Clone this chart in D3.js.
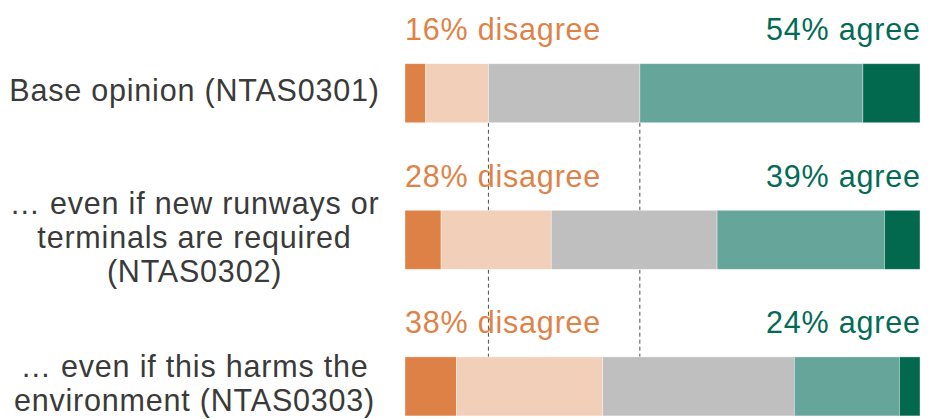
<!DOCTYPE html>
<html>
<head>
<meta charset="utf-8">
<script src="https://cdn.jsdelivr.net/npm/d3@7"></script>
<style>
  html, body { margin: 0; padding: 0; background: #fff; }
  svg { display: block; font-family: "Liberation Sans", Arial, Helvetica, sans-serif; }
</style>
</head>
<body>
<svg id="chart" width="931" height="419"></svg>
<script>
// Survey statements (one row each); label lines are split for wrapping
const questions = [
  ["Base opinion (NTAS0301)"],
  ["\u2026 even if new runways or", "terminals are required", "(NTAS0302)"],
  ["\u2026 even if this harms the", "environment (NTAS0303)"]
];

// Response shares (%) per statement
const stronglyDisagree = [4.0, 7.0, 10.0];
const disagree         = [12.2, 21.4, 28.4];
const neutral          = [29.4, 32.2, 37.2];
const agree            = [43.3, 32.5, 20.4];
const stronglyAgree    = [11.1, 6.9, 4.0];

const responseKeys = ["Strongly disagree", "Disagree", "Neutral", "Agree", "Strongly agree"];
const responseColors = ["#de8146", "#f2cfb9", "#bfbfbf", "#66a59a", "#02694f"];

const svg = d3.select("#chart");
const fontSize = 30.5;
const tracking = 0.8;

const rows = questions.map((q, i) => ({
  id: "q" + i,
  lines: q,
  "Strongly disagree": stronglyDisagree[i],
  "Disagree": disagree[i],
  "Neutral": neutral[i],
  "Agree": agree[i],
  "Strongly agree": stronglyAgree[i]
}));

const x = d3.scaleLinear().domain([0, 100]).range([405, 920]);
const y = d3.scaleBand()
  .domain(rows.map(d => d.id))
  .range([63.7, 415.9])
  .paddingInner(0.5975)
  .paddingOuter(0);

const color = d3.scaleOrdinal().domain(responseKeys).range(responseColors);
const stacked = d3.stack().keys(responseKeys)(rows);

// Reference guides at the first statement's disagree / neutral boundaries
const first = rows[0];
const guideValues = [
  first["Strongly disagree"] + first["Disagree"],
  first["Strongly disagree"] + first["Disagree"] + first["Neutral"]
];
svg.append("g")
  .selectAll("line")
  .data(guideValues)
  .join("line")
  .attr("x1", d => x(d)).attr("x2", d => x(d))
  .attr("y1", y(rows[0].id) + y.bandwidth())
  .attr("y2", y(rows[rows.length - 1].id))
  .attr("stroke", "#505050")
  .attr("stroke-width", 1)
  .attr("stroke-dasharray", "4,3");

// Stacked bars
svg.append("g")
  .selectAll("g")
  .data(stacked)
  .join("g")
  .attr("fill", s => color(s.key))
  .selectAll("rect")
  .data(s => s)
  .join("rect")
  .attr("x", d => x(d[0]))
  .attr("width", d => x(d[1]) - x(d[0]))
  .attr("y", d => y(d.data.id))
  .attr("height", y.bandwidth())
  .attr("stroke", "#ffffff")
  .attr("stroke-opacity", 0.45)
  .attr("stroke-width", 0.8);

// Totals above each bar
const summary = svg.append("g")
  .attr("font-size", fontSize)
  .attr("letter-spacing", tracking);
rows.forEach(r => {
  const dis = Math.round(r["Strongly disagree"] + r["Disagree"]);
  const agr = Math.round(r["Agree"] + r["Strongly agree"]);
  const base = y(r.id) - 23.5;
  summary.append("text")
    .attr("x", x(0)).attr("y", base)
    .attr("fill", "#df8247")
    .text(dis + "% disagree");
  summary.append("text")
    .attr("x", x(100) + tracking).attr("y", base)
    .attr("text-anchor", "end")
    .attr("fill", "#036b55")
    .text(agr + "% agree");
});

// Statement labels, centred on each bar
const lineH = 34;
const labels = svg.append("g")
  .attr("font-size", fontSize)
  .attr("letter-spacing", tracking)
  .attr("fill", "#3a3a3a")
  .attr("text-anchor", "middle");
rows.forEach(r => {
  const cy = y(r.id) + y.bandwidth() / 2;
  const n = r.lines.length;
  r.lines.forEach((line, j) => {
    labels.append("text")
      .attr("x", 194.5)
      .attr("y", cy + (j - (n - 1) / 2) * lineH)
      .attr("dy", "0.26em")
      .text(line);
  });
});
</script>
</body>
</html>
